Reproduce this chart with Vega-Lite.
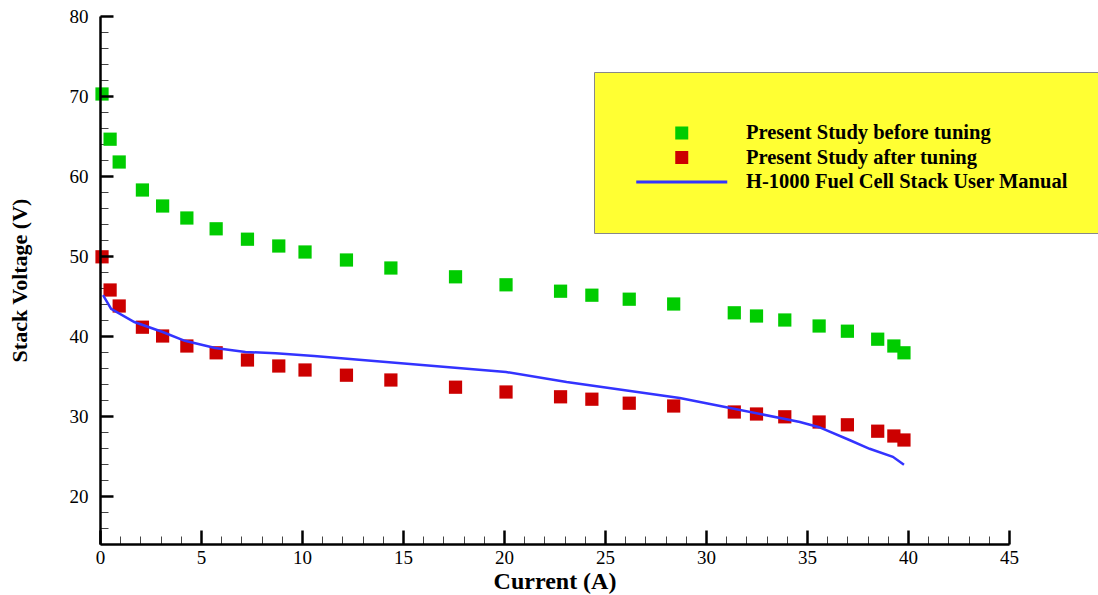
{
  "$schema": "https://vega.github.io/schema/vega-lite/v6.json",
  "width": 909,
  "height": 528,
  "autosize": "none",
  "padding": {"left": 100, "top": 16, "right": 89, "bottom": 51},
  "background": "white",
  "config": {"view": {"stroke": null}},
  "datasets": {
    "pts": [
      {"I": 0.1, "V": 70.25, "series": "Present Study before tuning"},
      {"I": 0.5, "V": 64.6, "series": "Present Study before tuning"},
      {"I": 0.95, "V": 61.75, "series": "Present Study before tuning"},
      {"I": 2.1, "V": 58.25, "series": "Present Study before tuning"},
      {"I": 3.1, "V": 56.25, "series": "Present Study before tuning"},
      {"I": 4.3, "V": 54.75, "series": "Present Study before tuning"},
      {"I": 5.75, "V": 53.4, "series": "Present Study before tuning"},
      {"I": 7.3, "V": 52.1, "series": "Present Study before tuning"},
      {"I": 8.85, "V": 51.25, "series": "Present Study before tuning"},
      {"I": 10.15, "V": 50.5, "series": "Present Study before tuning"},
      {"I": 12.2, "V": 49.5, "series": "Present Study before tuning"},
      {"I": 14.4, "V": 48.5, "series": "Present Study before tuning"},
      {"I": 17.6, "V": 47.4, "series": "Present Study before tuning"},
      {"I": 20.1, "V": 46.4, "series": "Present Study before tuning"},
      {"I": 22.8, "V": 45.6, "series": "Present Study before tuning"},
      {"I": 24.35, "V": 45.1, "series": "Present Study before tuning"},
      {"I": 26.2, "V": 44.6, "series": "Present Study before tuning"},
      {"I": 28.4, "V": 44.0, "series": "Present Study before tuning"},
      {"I": 31.4, "V": 42.9, "series": "Present Study before tuning"},
      {"I": 32.5, "V": 42.5, "series": "Present Study before tuning"},
      {"I": 33.9, "V": 42.0, "series": "Present Study before tuning"},
      {"I": 35.6, "V": 41.25, "series": "Present Study before tuning"},
      {"I": 37.0, "V": 40.6, "series": "Present Study before tuning"},
      {"I": 38.5, "V": 39.6, "series": "Present Study before tuning"},
      {"I": 39.3, "V": 38.75, "series": "Present Study before tuning"},
      {"I": 39.8, "V": 37.9, "series": "Present Study before tuning"},
      {"I": 0.1, "V": 49.9, "series": "Present Study after tuning"},
      {"I": 0.5, "V": 45.75, "series": "Present Study after tuning"},
      {"I": 0.95, "V": 43.75, "series": "Present Study after tuning"},
      {"I": 2.1, "V": 41.1, "series": "Present Study after tuning"},
      {"I": 3.1, "V": 40.0, "series": "Present Study after tuning"},
      {"I": 4.3, "V": 38.75, "series": "Present Study after tuning"},
      {"I": 5.75, "V": 37.9, "series": "Present Study after tuning"},
      {"I": 7.3, "V": 37.0, "series": "Present Study after tuning"},
      {"I": 8.85, "V": 36.25, "series": "Present Study after tuning"},
      {"I": 10.15, "V": 35.75, "series": "Present Study after tuning"},
      {"I": 12.2, "V": 35.1, "series": "Present Study after tuning"},
      {"I": 14.4, "V": 34.5, "series": "Present Study after tuning"},
      {"I": 17.6, "V": 33.6, "series": "Present Study after tuning"},
      {"I": 20.1, "V": 33.0, "series": "Present Study after tuning"},
      {"I": 22.8, "V": 32.4, "series": "Present Study after tuning"},
      {"I": 24.35, "V": 32.1, "series": "Present Study after tuning"},
      {"I": 26.2, "V": 31.6, "series": "Present Study after tuning"},
      {"I": 28.4, "V": 31.25, "series": "Present Study after tuning"},
      {"I": 31.4, "V": 30.5, "series": "Present Study after tuning"},
      {"I": 32.5, "V": 30.25, "series": "Present Study after tuning"},
      {"I": 33.9, "V": 29.9, "series": "Present Study after tuning"},
      {"I": 35.6, "V": 29.25, "series": "Present Study after tuning"},
      {"I": 37.0, "V": 28.9, "series": "Present Study after tuning"},
      {"I": 38.5, "V": 28.1, "series": "Present Study after tuning"},
      {"I": 39.3, "V": 27.5, "series": "Present Study after tuning"},
      {"I": 39.8, "V": 27.0, "series": "Present Study after tuning"}
    ],
    "manual": [
      {"I": 0.15, "V": 45.1, "series": "H-1000 Fuel Cell Stack User Manual"},
      {"I": 0.55, "V": 43.4, "series": "H-1000 Fuel Cell Stack User Manual"},
      {"I": 1.7, "V": 41.75, "series": "H-1000 Fuel Cell Stack User Manual"},
      {"I": 3.1, "V": 40.5, "series": "H-1000 Fuel Cell Stack User Manual"},
      {"I": 4.2, "V": 39.4, "series": "H-1000 Fuel Cell Stack User Manual"},
      {"I": 5.7, "V": 38.5, "series": "H-1000 Fuel Cell Stack User Manual"},
      {"I": 7.2, "V": 38.0, "series": "H-1000 Fuel Cell Stack User Manual"},
      {"I": 8.7, "V": 37.85, "series": "H-1000 Fuel Cell Stack User Manual"},
      {"I": 10.6, "V": 37.5, "series": "H-1000 Fuel Cell Stack User Manual"},
      {"I": 20.1, "V": 35.5, "series": "H-1000 Fuel Cell Stack User Manual"},
      {"I": 23.1, "V": 34.25, "series": "H-1000 Fuel Cell Stack User Manual"},
      {"I": 28.7, "V": 32.25, "series": "H-1000 Fuel Cell Stack User Manual"},
      {"I": 30.7, "V": 31.25, "series": "H-1000 Fuel Cell Stack User Manual"},
      {"I": 34.65, "V": 29.25, "series": "H-1000 Fuel Cell Stack User Manual"},
      {"I": 35.6, "V": 28.6, "series": "H-1000 Fuel Cell Stack User Manual"},
      {"I": 37.1, "V": 27.0, "series": "H-1000 Fuel Cell Stack User Manual"},
      {"I": 38.1, "V": 25.9, "series": "H-1000 Fuel Cell Stack User Manual"},
      {"I": 39.25, "V": 24.9, "series": "H-1000 Fuel Cell Stack User Manual"},
      {"I": 39.8, "V": 23.9, "series": "H-1000 Fuel Cell Stack User Manual"}
    ]
  },
  "layer": [
    {
      "data": {"name": "pts"},
      "mark": {"type": "point", "filled": true, "size": 175, "opacity": 1},
      "encoding": {
        "x": {
          "field": "I", "type": "quantitative",
          "scale": {"domain": [0, 45], "nice": false, "zero": false},
          "axis": {
            "orient": "bottom", "values": [0, 5, 10, 15, 20, 25, 30, 35, 40, 45],
            "grid": false, "tickSize": -14, "tickWidth": 2.5, "tickColor": "black",
            "domainColor": "black", "domainWidth": 2.5, "zindex": 1,
            "labelFont": "Liberation Serif", "labelFontSize": 19, "labelColor": "black", "labelPadding": 18,
            "labelFlush": false, "labelOverlap": false,
            "title": "Current (A)", "titleFont": "Liberation Serif", "titleFontSize": 24,
            "titleFontWeight": "bold", "titleColor": "black", "titlePadding": 2
          }
        },
        "y": {
          "field": "V", "type": "quantitative",
          "scale": {"domain": [14, 80], "nice": false, "zero": false},
          "axis": {
            "orient": "left", "values": [20, 30, 40, 50, 60, 70, 80],
            "grid": false, "tickSize": -13, "tickWidth": 2.5, "tickColor": "black",
            "domainColor": "black", "domainWidth": 2.5, "zindex": 1,
            "labelFont": "Liberation Serif", "labelFontSize": 19, "labelColor": "black", "labelPadding": 25,
            "labelFlush": false, "labelOverlap": false,
            "title": "Stack Voltage (V)", "titleFont": "Liberation Serif", "titleFontSize": 22,
            "titleFontWeight": "bold", "titleColor": "black", "titlePadding": 38
          }
        },
        "color": {
          "field": "series", "type": "nominal",
          "scale": {
            "domain": ["Present Study before tuning", "Present Study after tuning", "H-1000 Fuel Cell Stack User Manual"],
            "range": ["#00CC00", "#CC0000", "#3333FF"]
          },
          "legend": {
            "orient": "none", "legendX": 494, "legendY": 56, "title": " ",
            "titleFontSize": 8, "titlePadding": 2,
            "fillColor": "#FFFF33", "strokeColor": "#888888", "padding": 40,
            "labelFont": "Liberation Serif", "labelFontWeight": "bold", "labelFontSize": 20.5,
            "labelColor": "black", "labelLimit": 500, "labelOffset": 54, "symbolOffset": 37.5,
            "symbolSize": 8281, "clipHeight": 22, "rowPadding": 2.5, "symbolOpacity": 1,
            "encode": {
              "symbols": {
                "update": {
                  "size": {"signal": "datum.value === 'H-1000 Fuel Cell Stack User Manual' ? 8281 : 169"},
                  "stroke": {"scale": "color", "field": "value"},
                  "strokeWidth": {"signal": "datum.value === 'H-1000 Fuel Cell Stack User Manual' ? 3 : 0"},
                  "opacity": {"value": 1}
                }
              }
            }
          }
        },
        "shape": {
          "field": "series", "type": "nominal",
          "scale": {
            "domain": ["Present Study before tuning", "Present Study after tuning", "H-1000 Fuel Cell Stack User Manual"],
            "range": ["square", "square", "stroke"]
          },
          "legend": null
        }
      }
    },
    {
      "data": {"name": "manual"},
      "mark": {"type": "line", "strokeWidth": 2.5},
      "encoding": {
        "x": {
          "field": "I", "type": "quantitative",
          "axis": {
            "orient": "bottom", "values": [0,1,2,3,4,5,6,7,8,9,10,11,12,13,14,15,16,17,18,19,20,21,22,23,24,25,26,27,28,29,30,31,32,33,34,35,36,37,38,39,40,41,42,43,44,45],
            "grid": false, "tickSize": -8, "tickWidth": 1, "tickColor": "#444444",
            "domain": false, "labels": false, "title": null
          }
        },
        "y": {
          "field": "V", "type": "quantitative",
          "axis": {
            "orient": "left", "values": [14,16,18,20,22,24,26,28,30,32,34,36,38,40,42,44,46,48,50,52,54,56,58,60,62,64,66,68,70,72,74,76,78,80],
            "grid": false, "tickSize": -8, "tickWidth": 1, "tickColor": "#444444",
            "domain": false, "labels": false, "title": null
          }
        },
        "color": {"field": "series", "type": "nominal"}
      }
    }
  ],
  "resolve": {"axis": {"x": "independent", "y": "independent"}}
}
